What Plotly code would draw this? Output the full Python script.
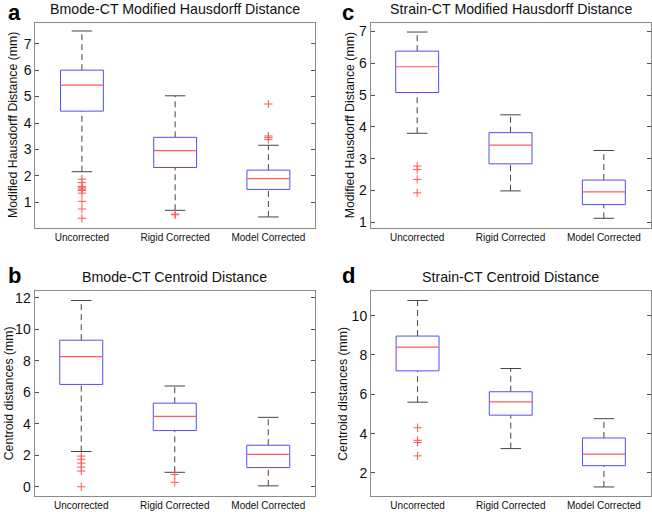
import plotly.graph_objects as go

W, H = 652, 512

categories = ["Uncorrected", "Rigid Corrected", "Model Corrected"]

# Panel a: Bmode-CT Modified Hausdorff Distance
a_low = [2.16, 0.70, 0.45]
a_q1 = [4.45, 2.32, 1.49]
a_median = [5.43, 2.96, 1.90]
a_q3 = [6.00, 3.46, 2.22]
a_high = [7.48, 5.03, 3.16]
a_outliers = [[1.88, 1.75, 1.60, 1.55, 1.50, 1.45, 1.35, 1.04, 0.75, 0.40],
              [0.56, 0.53],
              [4.72, 3.51, 3.45, 3.38]]

# Panel b: Bmode-CT Centroid Distance
b_low = [2.24, 0.92, 0.06]
b_q1 = [6.50, 3.57, 1.22]
b_median = [8.26, 4.47, 2.06]
b_q3 = [9.31, 5.31, 2.64]
b_high = [11.83, 6.40, 4.41]
b_outliers = [[1.95, 1.75, 1.50, 1.25, 1.00, 0.00],
              [0.78, 0.28],
              []]

# Panel c: Strain-CT Modified Hausdorff Distance
c_low = [3.80, 1.99, 1.13]
c_q1 = [5.08, 2.84, 1.56]
c_median = [5.89, 3.43, 1.96]
c_q3 = [6.38, 3.82, 2.33]
c_high = [6.98, 4.38, 3.26]
c_outliers = [[2.77, 2.66, 2.35, 1.93], [], []]

# Panel d: Strain-CT Centroid Distance
d_low = [5.60, 3.24, 1.29]
d_q1 = [7.19, 4.94, 2.37]
d_median = [8.40, 5.61, 2.96]
d_q3 = [8.96, 6.13, 3.78]
d_high = [10.77, 7.31, 4.76]
d_outliers = [[4.30, 3.66, 3.55, 2.87], [], []]

a_ticks = [1, 2, 3, 4, 5, 6, 7]
b_ticks = [0, 2, 4, 6, 8, 10, 12]
c_ticks = [1, 2, 3, 4, 5, 6, 7]
d_ticks = [2, 4, 6, 8, 10]

panels = [
    dict(letter="a", title="Bmode-CT Modified Hausdorff Distance",
         ytitle="Modified Hausdorff Distance (mm)",
         low=a_low, q1=a_q1, med=a_median, q3=a_q3, high=a_high, out=a_outliers,
         ticks=a_ticks, yr=[0.05, 7.80], px=(35.3, 315, 21.7, 228.3),
         ty=8, ly=12, lx=6, yx=13),
    dict(letter="b", title="Bmode-CT Centroid Distance",
         ytitle="Centroid distances (mm)",
         low=b_low, q1=b_q1, med=b_median, q3=b_q3, high=b_high, out=b_outliers,
         ticks=b_ticks, yr=[-0.61, 12.42], px=(34.5, 315, 292.5, 499.3),
         ty=278, ly=277, lx=6, yx=8.5),
    dict(letter="c", title="Strain-CT Modified Hausdorff Distance",
         ytitle="Modified Hausdorff Distance (mm)",
         low=c_low, q1=c_q1, med=c_median, q3=c_q3, high=c_high, out=c_outliers,
         ticks=c_ticks, yr=[0.84, 7.26], px=(370.5, 650.5, 22.3, 228.3),
         ty=8, ly=12, lx=340, yx=350),
    dict(letter="d", title="Strain-CT Centroid Distance",
         ytitle="Centroid distances (mm)",
         low=d_low, q1=d_q1, med=d_median, q3=d_q3, high=d_high, out=d_outliers,
         ticks=d_ticks, yr=[0.81, 11.24], px=(371, 650.5, 292.5, 499.3),
         ty=278, ly=277, lx=340, yx=343),
]

BOX_HALF = 0.23
CAP_HALF = 0.11
BLUE = "#5050f0"
RED = "#ff5a5a"
WHISK = "#444444"
FONT = "Liberation Sans, Arial, sans-serif"

fig = go.Figure()
layout = dict(width=W, height=H, margin=dict(l=0, r=0, t=0, b=0),
              paper_bgcolor="white", plot_bgcolor="white", showlegend=False,
              annotations=[])

for k, p in enumerate(panels):
    n = "" if k == 0 else str(k + 1)
    xa, ya = "x" + n, "y" + n
    x0, x1, y0, y1 = p["px"]
    layout["xaxis" + n] = dict(
        domain=[x0 / W, x1 / W], anchor=ya, range=[0.5, 3.5],
        tickmode="array", tickvals=[1, 2, 3], ticktext=categories,
        ticks="", showline=True, linecolor="#8a8a8a", linewidth=1, mirror=True,
        showgrid=False, zeroline=False, ticklabelstandoff=0,
        tickfont=dict(family=FONT, size=10, color="#111"))
    layout["yaxis" + n] = dict(
        domain=[1 - y1 / H, 1 - y0 / H], anchor=xa, range=p["yr"],
        tickmode="array", tickvals=p["ticks"],
        ticks="inside", ticklen=4, tickcolor="#555", mirror="ticks",
        showline=True, linecolor="#8a8a8a", linewidth=1,
        showgrid=False, zeroline=False,
        tickfont=dict(family=FONT, size=14, color="#111"))

    bx, by, mx, my, wx, wy, cx, cy, ox, oy = [], [], [], [], [], [], [], [], [], []
    for i in range(3):
        c = i + 1
        bx += [c - BOX_HALF, c + BOX_HALF, c + BOX_HALF, c - BOX_HALF, c - BOX_HALF, None]
        by += [p["q1"][i], p["q1"][i], p["q3"][i], p["q3"][i], p["q1"][i], None]
        mx += [c - BOX_HALF, c + BOX_HALF, None]
        my += [p["med"][i], p["med"][i], None]
        wx += [c, c, None, c, c, None]
        wy += [p["q3"][i], p["high"][i], None, p["low"][i], p["q1"][i], None]
        cx += [c - CAP_HALF, c + CAP_HALF, None, c - CAP_HALF, c + CAP_HALF, None]
        cy += [p["high"][i], p["high"][i], None, p["low"][i], p["low"][i], None]
        for v in p["out"][i]:
            ox.append(c)
            oy.append(v)

    fig.add_trace(go.Scatter(x=wx, y=wy, xaxis=xa, yaxis=ya, mode="lines",
                             line=dict(color=WHISK, width=1, dash="6px,4px"),
                             hoverinfo="skip"))
    fig.add_trace(go.Scatter(x=cx, y=cy, xaxis=xa, yaxis=ya, mode="lines",
                             line=dict(color=WHISK, width=1), hoverinfo="skip"))
    fig.add_trace(go.Scatter(x=bx, y=by, xaxis=xa, yaxis=ya, mode="lines",
                             line=dict(color=BLUE, width=1), hoverinfo="skip"))
    fig.add_trace(go.Scatter(x=mx, y=my, xaxis=xa, yaxis=ya, mode="lines",
                             line=dict(color=RED, width=1.2), hoverinfo="skip"))
    fig.add_trace(go.Scatter(x=ox, y=oy, xaxis=xa, yaxis=ya, mode="markers",
                             marker=dict(symbol="cross-thin", size=6,
                                         line=dict(color=RED, width=1)),
                             hoverinfo="skip"))

    # title
    layout["annotations"].append(dict(
        text=p["title"], xref="paper", yref="paper",
        x=((x0 + x1) / 2) / W, y=1 - p["ty"] / H, xanchor="center", yanchor="middle",
        showarrow=False, font=dict(family=FONT, size=14.2, color="#111")))
    # y-axis title
    layout["annotations"].append(dict(
        text=p["ytitle"], xref="paper", yref="paper", textangle=-90,
        x=p["yx"] / W, y=1 - ((y0 + y1) / 2) / H, xanchor="center", yanchor="middle",
        showarrow=False, font=dict(family=FONT, size=12.3, color="#111")))
    # panel letter
    layout["annotations"].append(dict(
        text="<b>" + p["letter"] + "</b>", xref="paper", yref="paper",
        x=p["lx"] / W, y=1 - p["ly"] / H, xanchor="left", yanchor="middle",
        showarrow=False, font=dict(family=FONT, size=22, color="#000")))

fig.update_layout(**layout)
fig.write_html("out.html", config={"displayModeBar": False},
               post_script="document.body.style.margin='0';document.body.style.padding='0';")
